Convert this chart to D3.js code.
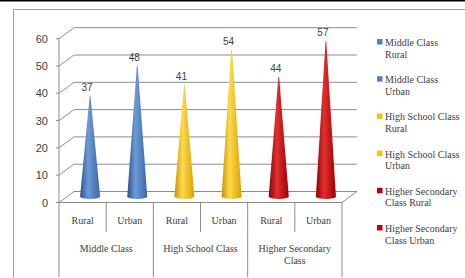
<!DOCTYPE html>
<html lang="en">
<head>
<meta charset="utf-8">
<title>Cone chart</title>
<script src="https://d3js.org/d3.v7.min.js"></script>
<style>
body { margin: 0; background: #fff; }
svg text { fill: #404040; }
.serif { font-family: "Liberation Serif", "Times New Roman", serif; font-size: 10px; }
.sans { font-family: "Liberation Sans", Arial, sans-serif; }
</style>
</head>
<body>
<div id="chart"></div>
<script>

var w = 465;
var h = 278;

// data
var groups = ["Middle Class", "High School Class", "Higher Secondary Class"];
var subs = ["Rural", "Urban"];
var values = [37, 48, 41, 54, 44, 57];
var legendLabels = ["Middle Class Rural", "Middle Class Urban", "High School Class Rural",
                    "High School Class Urban", "Higher Secondary Class Rural", "Higher Secondary Class Urban"];
var yTicks = [0, 10, 20, 30, 40, 50, 60];

var colors = ["#4f81bd", "#ffc000", "#c00000"];
var shades = [
  ["#2b5488", "#6c9ad6", "#3a68a3"],
  ["#c99400", "#ffd84d", "#d9a300"],
  ["#8a0000", "#e03030", "#a00000"]
];

var depthX = 15, depthY = -11;
var left = 59, right = 342, floorY = 202.5, topY = 38.7;

var keys = d3.range(values.length);
var xScale = d3.scaleBand().domain(keys).range([left, right]);
var groupScale = d3.scaleBand().domain(groups).range([left, right]);
var yScale = d3.scaleLinear().domain([0, 60]).range([floorY, topY]);

var svg = d3.select("#chart").append("svg")
  .attr("width", w)
  .attr("height", h);

// top rule and chart frame
svg.append("rect").attr("x", 0).attr("y", 0).attr("width", w).attr("height", 1.5).attr("fill", "#000");
svg.append("path")
  .attr("d", "M13.5," + h + "V9.5H" + w)
  .attr("fill", "none").attr("stroke", "#a0a0a0");

var grid = svg.append("g").attr("stroke", "#8c8c8c").attr("fill", "none").attr("stroke-width", 1);

// back wall gridlines + side wall diagonals
yTicks.forEach(function(t) {
  var y = yScale(t);
  grid.append("line")
    .attr("x1", left + depthX).attr("x2", right + depthX)
    .attr("y1", y + depthY).attr("y2", y + depthY);
  grid.append("line")
    .attr("x1", left).attr("x2", left + depthX)
    .attr("y1", y).attr("y2", y + depthY);
  grid.append("line")
    .attr("x1", left - 3).attr("x2", left)
    .attr("y1", y).attr("y2", y);
});
// front axis and floor
grid.append("line").attr("x1", left).attr("x2", left).attr("y1", yScale(60)).attr("y2", floorY);
grid.append("line").attr("x1", left).attr("x2", right).attr("y1", floorY).attr("y2", floorY);
grid.append("line").attr("x1", right).attr("x2", right + depthX).attr("y1", floorY).attr("y2", floorY + depthY);

// y tick labels
svg.selectAll(".ytick").data(yTicks).enter().append("text")
  .attr("class", "sans")
  .attr("x", 48)
  .attr("y", function(d) { return yScale(d) + 4; })
  .attr("text-anchor", "end")
  .style("font-size", "11px")
  .text(function(d) { return d; });

// category axis dividers
var divs = svg.append("g").attr("stroke", "#8c8c8c");
keys.forEach(function(k) {
  if (k % 2 == 1) {
    var x = xScale(k);
    divs.append("line").attr("x1", x).attr("x2", x).attr("y1", floorY).attr("y2", 232);
  }
});
groups.concat(["end"]).forEach(function(g, i) {
  var x = i < groups.length ? groupScale(g) : right;
  divs.append("line").attr("x1", x).attr("x2", x).attr("y1", floorY).attr("y2", 277);
});

svg.selectAll(".sub").data(keys).enter().append("text")
  .attr("class", "serif")
  .attr("x", function(d) { return xScale(d) + xScale.bandwidth() / 2; })
  .attr("y", 224)
  .attr("text-anchor", "middle")
  .text(function(d) { return subs[d % 2]; });

var glabels = [["Middle Class"], ["High School Class"], ["Higher Secondary", "Class"]];
groups.forEach(function(g, i) {
  var t = svg.append("text")
    .attr("class", "serif")
    .attr("text-anchor", "middle")
    .attr("y", 252);
  glabels[i].forEach(function(line, j) {
    t.append("tspan")
      .attr("x", groupScale(g) + groupScale.bandwidth() / 2)
      .attr("dy", j == 0 ? 0 : 12)
      .text(line);
  });
});

// gradients
var defs = svg.append("defs");
shades.forEach(function(s, i) {
  var lg = defs.append("linearGradient").attr("id", "g" + i)
    .attr("x1", "0").attr("x2", "1").attr("y1", "0").attr("y2", "0");
  lg.append("stop").attr("offset", "0").attr("stop-color", s[0]);
  lg.append("stop").attr("offset", "0.4").attr("stop-color", s[1]);
  lg.append("stop").attr("offset", "1").attr("stop-color", s[2]);
});

// cones
var coneW = 20, ry = 2.5;
var cones = svg.selectAll(".cone").data(keys).enter().append("g");
cones.append("path")
  .attr("fill", function(d) { return "url(#g" + Math.floor(d / 2) + ")"; })
  .attr("d", function(d) {
    var cx = xScale(d) + xScale.bandwidth() / 2 + depthX / 2;
    var by = floorY + depthY / 2 - 0.5;
    var ty = yScale(values[d]) + depthY / 2;
    return "M" + (cx - 0.4) + "," + ty + "L" + (cx - coneW / 2) + "," + by +
      "A" + (coneW / 2) + "," + ry + " 0 0 0 " + (cx + coneW / 2) + "," + by +
      "L" + (cx + 0.4) + "," + ty + "Z";
  });

// data labels
cones.append("text")
  .attr("class", "sans")
  .attr("x", function(d) { return xScale(d) + xScale.bandwidth() / 2 + depthX / 2 - 3; })
  .attr("y", function(d) { return yScale(values[d]) + depthY / 2 - 5; })
  .attr("text-anchor", "middle")
  .style("font-size", "10px")
  .text(function(d) { return values[d]; });

// legend
var legend = svg.selectAll(".leg").data(legendLabels).enter().append("g")
  .attr("transform", function(d, i) { return "translate(377," + (42 + i * 37.2) + ")"; });
legend.append("rect")
  .attr("x", 0).attr("y", -3).attr("width", 5.5).attr("height", 5.5)
  .attr("fill", function(d, i) { return colors[Math.floor(i / 2)]; });
legend.append("text")
  .attr("class", "serif")
  .attr("y", 4)
  .each(function(d) {
    var words = d.split(" ");
    var lines = d.indexOf("Secondary") > 0
      ? [words.slice(0, 2).join(" "), words.slice(2).join(" ")]
      : [words.slice(0, words.length - 1).join(" "), words[words.length - 1]];
    var t = d3.select(this);
    lines.forEach(function(line, j) {
      t.append("tspan").attr("x", j == 0 ? 8 : 8).attr("dy", j == 0 ? 0 : 11.5).text(line);
    });
  });

</script>
</body>
</html>
